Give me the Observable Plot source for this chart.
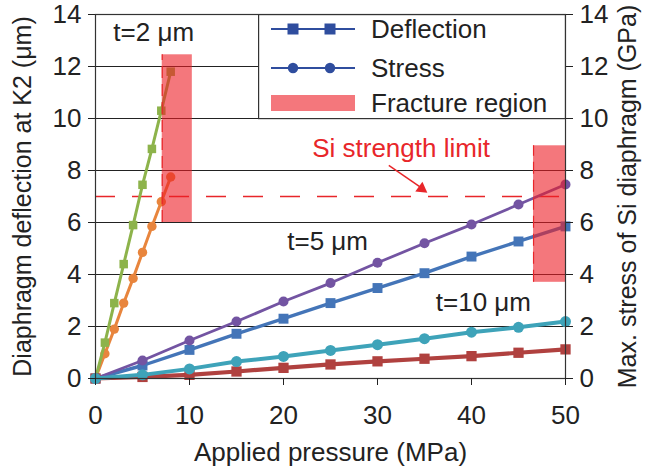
<!DOCTYPE html>
<html><head><meta charset="utf-8">
<script src="https://cdn.jsdelivr.net/npm/d3@7"></script>
<script src="https://cdn.jsdelivr.net/npm/@observablehq/plot@0.6"></script>
<style>
body{margin:0;background:#fff;}
#wrap{position:relative;width:651px;height:470px;font-family:"Liberation Sans",Arial,sans-serif;}
#legend{position:absolute;}
</style></head><body><div id="wrap"></div>
<script>
// ---- data ----
const pressureT2 = [0,1,2,3,4,5,6,7,8];
const deflectionT2 = [0,1.38,2.9,4.4,5.9,7.45,8.83,10.3,11.8];
const stressT2 = [0,0.95,1.9,2.9,3.85,4.85,5.85,6.8,7.75];
const pressureT5 = [0,5,10,15,20,25,30,35,40,45,50];
const deflectionT5 = [0,0.5,1.1,1.72,2.3,2.9,3.48,4.05,4.69,5.27,5.85];
const stressT5 = [0,0.69,1.46,2.19,2.96,3.67,4.45,5.2,5.92,6.69,7.46];
const pressureT10 = [0,5,10,15,20,25,30,35,40,45,50];
const deflectionT10 = [0,0.06,0.14,0.27,0.41,0.54,0.66,0.76,0.86,0.99,1.12];
const stressT10 = [0,0.14,0.37,0.65,0.85,1.08,1.3,1.53,1.78,1.97,2.19];
const strengthLimit = [7];
const fractureX1 = [7.1,46.6];
const fractureX2 = [10.3,50];
const fractureY1 = [6.0,3.7];
const fractureY2 = [12.45,8.95];
const xTicks = [0,10,20,30,40,50];
const yTicks = [0,2,4,6,8,10,12,14];
const gridY = [2,4,6,8,10,12];
const thicknessLabels = ["t=2 μm","t=5 μm","t=10 μm"];
const labelX = [1.9,20.4,36.2];
const labelY = [13.3,5.25,2.92];
const legendLabels = ["Deflection","Stress","Fracture region"];
const annotationText = ["Si strength limit"];

// ---- styles ----
const seriesStyle = {
  defT2:{color:"#8db34b",symbol:"square",r:4.8,w:3},
  strT2:{color:"#e8853d",symbol:"circle",r:4.7,w:3},
  defT5:{color:"#4475b8",symbol:"square",r:5.6,w:3.4},
  strT5:{color:"#7354a2",symbol:"circle",r:5,w:2.8},
  defT10:{color:"#b0413f",symbol:"square",r:5.8,w:4.2},
  strT10:{color:"#3ea3b9",symbol:"circle",r:5.5,w:4}
};
const red = "#e8262a";
const font = "Liberation Sans, Arial, sans-serif";
const fs = 26;

function rows(xs, ys){ return xs.map((x,i)=>({x, y: ys[i]})); }
const seriesData = {
  strT2: rows(pressureT2, stressT2),
  defT2: rows(pressureT2, deflectionT2),
  defT5: rows(pressureT5, deflectionT5),
  strT5: rows(pressureT5, stressT5),
  defT10: rows(pressureT10, deflectionT10),
  strT10: rows(pressureT10, stressT10)
};
const fractures = fractureX1.map((x1,i)=>({x1, x2: fractureX2[i], y1: fractureY1[i], y2: fractureY2[i]}));
const labels = thicknessLabels.map((t,i)=>({t, x: labelX[i], y: labelY[i]}));

const seriesMarks = [];
for (const k of Object.keys(seriesData)) {
  const s = seriesStyle[k];
  seriesMarks.push(Plot.line(seriesData[k], {x:"x", y:"y", stroke:s.color, strokeWidth:s.w}));
  seriesMarks.push(Plot.dot(seriesData[k], {x:"x", y:"y", symbol:s.symbol, fill:s.color, r:s.r}));
}

const chart = Plot.plot({
  width: 651, height: 470,
  marginLeft: 95, marginRight: 86, marginTop: 14, marginBottom: 92,
  style: {fontFamily: font, fontSize: fs + "px", color: "#222", background: "#fff"},
  x: {domain: [0,50]},
  y: {domain: [0,14]},
  marks: [
    Plot.ruleY(gridY, {stroke:"#222", strokeWidth:1}),
    Plot.ruleY(strengthLimit, {stroke:red, strokeWidth:1.3, strokeDasharray:"20,17"}),
    ...seriesMarks,
    Plot.rect(fractures, {x1:"x1", x2:"x2", y1:"y1", y2:"y2", fill:"#ed1c24", fillOpacity:0.6}),
    Plot.ruleX(fractures, {x:"x1", y1:"y1", y2:"y2", stroke:red, strokeWidth:1.2, strokeDasharray:"12,6"}),
    Plot.frame({stroke:"#333", strokeWidth:1.2}),
    Plot.axisX({ticks: xTicks, tickSize:7, tickPadding:20, label:"Applied pressure (MPa)", labelAnchor:"center", labelArrow:"none", labelOffset:82}),
    Plot.axisY({anchor:"left", ticks: yTicks, tickSize:7, tickPadding:7, label:"Diaphragm deflection at K2 (μm)", labelAnchor:"center", labelArrow:"none", labelOffset:82}),
    Plot.axisY({anchor:"right", ticks: yTicks, tickSize:7, tickPadding:7, label:"Max. stress of Si diaphragm (GPa)", labelAnchor:"center", labelArrow:"none", labelOffset:70}),
    Plot.text(labels, {x:"x", y:"y", text:"t", textAnchor:"start", fill:"#222", fontSize:fs}),
    Plot.text(annotationText, {x:23.05, y:8.85, text:d=>d, textAnchor:"start", fill:red, fontSize:fs}),
    Plot.link([{x1:31.2,y1:8.2,x2:34.6,y2:7.35}], {x1:"x1",y1:"y1",x2:"x2",y2:"y2", stroke:red, strokeWidth:1.5}),
    Plot.dot([{x:34.7,y:7.3}], {x:"x", y:"y", symbol:"triangle", r:4.5, rotate:126, fill:red})
  ]
});
// slightly smaller font for the two long vertical axis titles so they fit the height
chart.querySelectorAll('[aria-label="y-axis label"]').forEach(g => { g.setAttribute("font-size", "25"); g.style.fontSize = "25px"; });
document.getElementById("wrap").appendChild(chart);

// ---- legend (overlay box, top-right inside plot) ----
const lgLeft = 258, lgTop = 14;
const lg = d3.select("#wrap").append("svg").attr("id","legend")
  .attr("width",308).attr("height",106)
  .style("left",lgLeft+"px").style("top",lgTop+"px");
lg.append("rect").attr("x",0.6).attr("y",0.6).attr("width",306.8).attr("height",104)
  .attr("fill","#fff").attr("stroke","#333").attr("stroke-width",1.2);
const legBlue = "#2f4d9e";
const rowsY = [15,54,89];
legendLabels.forEach((lab,i)=>{
  const y = rowsY[i];
  if (i < 2) {
    lg.append("line").attr("x1",13).attr("x2",97).attr("y1",y).attr("y2",y).attr("stroke",legBlue).attr("stroke-width",2.2);
    [35,72].forEach(cx=>{
      if (i===0) lg.append("rect").attr("x",cx-5.5).attr("y",y-5.5).attr("width",11).attr("height",11).attr("fill",legBlue);
      else lg.append("circle").attr("cx",cx).attr("cy",y).attr("r",5.2).attr("fill",legBlue);
    });
  } else {
    lg.append("rect").attr("x",13).attr("y",y-8).attr("width",84).attr("height",16).attr("fill","#ed1c24").attr("fill-opacity",0.6);
  }
  lg.append("text").attr("x",113).attr("y",y).attr("dy","0.36em").attr("font-family",font).attr("font-size",fs).attr("fill","#222").text(lab);
});
</script></body></html>
